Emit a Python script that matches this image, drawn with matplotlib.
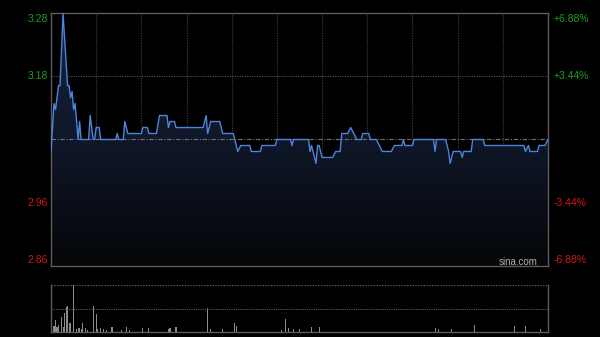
import matplotlib
matplotlib.use('Agg')
import matplotlib.pyplot as plt
import numpy as np
from matplotlib.patches import Polygon
from matplotlib.colors import LinearSegmentedColormap

# intraday data (minutes since 09:30, HK session, 330 minutes)
prev_close = 3.07
minutes = [0, 2, 3, 5, 6, 8, 11, 12, 13, 14, 15, 16, 17, 18, 19, 20,
           25, 26, 28, 29, 30, 32, 33,
           43, 44, 45, 48, 49, 51,
           60, 61, 64, 65, 70, 72, 77, 78, 79, 82, 83,
           101, 103, 104, 106, 112, 114, 121, 124, 126, 132, 133, 139, 140, 149,
           150, 159, 160, 161, 171, 172, 173, 174, 176, 177, 178, 180, 187, 189,
           192, 193, 197, 199, 201, 203, 206, 207, 211, 212, 216, 218, 220, 226,
           228, 233, 234, 235, 240, 241, 254, 255, 256, 262, 264, 265, 267, 272,
           273, 274, 279, 280, 287, 288, 314, 315, 317, 318, 323, 324, 328, 330]
prices = [3.05, 3.13, 3.12, 3.16, 3.16, 3.28, 3.16, 3.16, 3.14, 3.15, 3.12, 3.13, 3.10, 3.07, 3.10, 3.07,
          3.07, 3.11, 3.07, 3.07, 3.09, 3.09, 3.07,
          3.07, 3.08, 3.07, 3.07, 3.10, 3.08,
          3.08, 3.09, 3.09, 3.08, 3.08, 3.11, 3.11, 3.09, 3.10, 3.10, 3.09,
          3.09, 3.11, 3.08, 3.10, 3.10, 3.08, 3.08, 3.05, 3.06, 3.06, 3.05, 3.05, 3.06, 3.06,
          3.07, 3.07, 3.06, 3.07, 3.07, 3.05, 3.06, 3.05, 3.03, 3.06, 3.06, 3.04, 3.04, 3.05,
          3.05, 3.08, 3.08, 3.09, 3.08, 3.07, 3.07, 3.08, 3.08, 3.07, 3.07, 3.06, 3.05, 3.05,
          3.06, 3.06, 3.07, 3.06, 3.06, 3.07, 3.07, 3.05, 3.07, 3.07, 3.05, 3.03, 3.05, 3.05,
          3.04, 3.05, 3.05, 3.07, 3.07, 3.06, 3.06, 3.05, 3.06, 3.05, 3.05, 3.06, 3.06, 3.07]

vol_minutes = [0, 2, 3, 4, 5, 7, 8, 9, 10, 11, 12, 13, 15, 17, 18, 19, 20, 21, 23, 24,
               28, 30, 31, 33, 35, 37, 40, 41, 47, 50, 52, 61, 65, 78, 79, 83,
               104, 106, 114, 122, 123, 153, 156, 158, 161, 165, 173, 178,
               255, 257, 266, 281, 308, 315, 325]
volumes = [40, 60, 120, 50, 70, 150, 50, 190, 250, 260, 90, 90, 470, 30, 40, 40, 30, 90, 40, 20,
           260, 180, 30, 40, 30, 20, 50, 50, 20, 50, 20, 40, 40, 30, 40, 50,
           240, 30, 30, 90, 60, 20, 130, 40, 30, 30, 50, 50,
           40, 30, 30, 70, 60, 60, 30]

pct_labels = ['+6.88%', '+3.44%', '-3.44%', '-6.88%']

fig = plt.figure(figsize=(6, 3.37), dpi=100, facecolor='black')
ax = fig.add_axes([51/600, 71/337, 497/600, 253/337])
axv = fig.add_axes([51/600, 5/337, 497/600, 47/337])

lo = prev_close * (1 - 0.0688)
hi = prev_close * (1 + 0.0688)
ax.set_facecolor('black')
ax.set_xlim(0, 330)
ax.set_ylim(lo, hi)
ax.set_xticks([])
ax.set_yticks([])
for s in ax.spines.values():
    s.set_color('#5c5c5c')
    s.set_linewidth(1)

for i in range(1, 11):
    ax.axvline(i * 30, color='#3a3a3a', ls=(0, (1, 1)), lw=0.9, zorder=0.5)
for p in [1.0344, 0.9656]:
    ax.axhline(prev_close * p, color='#555555', ls=(0, (1, 1.2)), lw=0.8, zorder=0.5)
ax.axhline(prev_close, color='#707070', ls=(0, (4, 1.5, 1, 1.5)), lw=0.8, zorder=2.5)

# gradient fill under the price line
verts = [(minutes[0], lo)] + list(zip(minutes, prices)) + [(minutes[-1], lo)]
patch = Polygon(verts, closed=True, facecolor='none', edgecolor='none')
ax.add_patch(patch)
cmap = LinearSegmentedColormap.from_list('f', ['#050608', '#0f1729', '#17253f'])
grad = np.linspace(0, 1, 256).reshape(-1, 1)
im = ax.imshow(grad, extent=[0, 330, lo, max(prices)], origin='lower',
               aspect='auto', cmap=cmap, zorder=1)
im.set_clip_path(patch)

ax.plot(minutes, prices, color='#4d84dc', lw=1.0, zorder=3)

levels = [hi, prev_close * 1.0344, prev_close * 0.9656, lo]
offs = [-4.3, 0, 0, 4.0]
colors = ['#1ea01e', '#1ea01e', '#d01818', '#d01818']
for v, lab, off, c in zip(levels, pct_labels, offs, colors):
    ax.annotate(f'{v:.2f}', xy=(0, v), xycoords=('axes fraction', 'data'),
                xytext=(-2.4, off), textcoords='offset points', ha='right', va='center',
                color=c, fontsize=7.5, family='Liberation Sans')
    ax.annotate(lab, xy=(1, v), xycoords=('axes fraction', 'data'),
                xytext=(3.8, off), textcoords='offset points', ha='left', va='center',
                color=c, fontsize=7.5, family='Liberation Sans')

ax.annotate('sina.com', xy=(1, 0), xycoords='axes fraction', xytext=(-7.7, 3.1),
            textcoords='offset points', ha='right', va='center', color='#b0b0b0',
            fontsize=7, family='Liberation Sans')

# volume panel
vmax = max(volumes)
axv.set_facecolor('black')
axv.set_xlim(0, 330)
axv.set_ylim(0, vmax)
axv.set_xticks([])
axv.set_yticks([])
axv.bar(vol_minutes, volumes, width=0.7, color='#8c8c8c', zorder=2)
axv.axhline(vmax, color='#5a5a5a', ls=(0, (1, 1)), lw=1.0)
axv.axhline(vmax / 2, color='#5a5a5a', ls=(0, (1, 1)), lw=0.8)
axv.spines['top'].set_visible(False)
for k in ['left', 'right', 'bottom']:
    axv.spines[k].set_color('#5c5c5c')
    axv.spines[k].set_linewidth(1)

fig.savefig('out.png', dpi=100, facecolor='black')
